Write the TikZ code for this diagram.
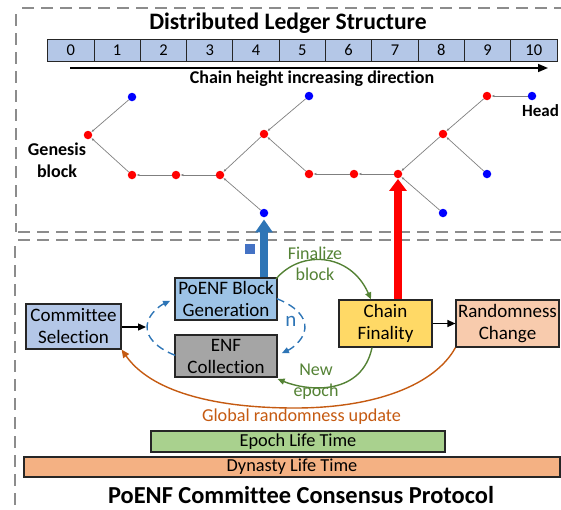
\documentclass[tikz,border=0pt]{standalone}
\usepackage{fontspec}
\setmainfont{Carlito}[Ligatures=NoCommon]
\usetikzlibrary{arrows.meta}
\definecolor{cellblue}{HTML}{B4C7E7}
\definecolor{genblue}{HTML}{9DC3E6}
\definecolor{enfgray}{HTML}{A5A5A5}
\definecolor{cfyellow}{HTML}{FFD966}
\definecolor{rcpeach}{HTML}{F8CBAD}
\definecolor{epgreen}{HTML}{A9D18E}
\definecolor{dynorange}{HTML}{F4B183}
\definecolor{dashgray}{HTML}{8C8C8C}
\definecolor{steel}{HTML}{2E75B6}
\definecolor{sqblue}{HTML}{4472C4}
\definecolor{olive}{HTML}{548235}
\definecolor{rust}{HTML}{C55A11}
\definecolor{edgegray}{HTML}{7F7F7F}
\definecolor{dotblue}{HTML}{0000FF}
\begin{document}
\begin{tikzpicture}[x=1pt,y=-1pt,
  frame/.style={dashgray,line width=1.6pt,dash pattern=on 12pt off 7pt},
  cell/.style={draw=black!85,line width=1pt,fill=cellblue,minimum width=46.3pt,minimum height=22pt,inner sep=0pt,font=\fontsize{16.5}{18}\selectfont},
  reddot/.style={circle,fill=red,inner sep=0pt,minimum size=8.5pt},
  bluedot/.style={circle,fill=dotblue,inner sep=0pt,minimum size=8.5pt},
  edge/.style={edgegray,line width=0.7pt,-{Latex[length=3pt,width=2.5pt]}},
  box/.style={draw=black!85,line width=1.2pt,inner sep=0pt,align=center,font=\fontsize{19}{22}\selectfont},
  bar/.style={draw=black!85,line width=1.2pt,inner sep=0pt,font=\fontsize{18.3}{20}\selectfont},
  blk/.style={black,line width=1.4pt,-{Triangle[length=8pt,width=7pt]}},
  loopar/.style={steel,line width=1.4pt,dash pattern=on 8pt off 5pt,-{Triangle[length=7pt,width=6pt]}},
  grn/.style={olive,line width=1.4pt,-{Triangle[length=7pt,width=6pt]}},
]
\useasboundingbox (0,0) rectangle (561,509);
% frames
\coordinate (f1a) at (22,8);   \coordinate (f1b) at (561,8);
\coordinate (f1c) at (16,14);  \coordinate (f1d) at (16,232);
\coordinate (f1e) at (18,232); \coordinate (f1f) at (561,232);
\coordinate (f2a) at (18,240); \coordinate (f2b) at (561,240);
\coordinate (f2c) at (15,246); \coordinate (f2d) at (15,509);
\draw[frame] (f1a) -- (f1b);
\draw[frame] (f1c) -- (f1d);
\draw[frame] (f1e) -- (f1f);
\draw[frame] (f2a) -- (f2b);
\draw[frame] (f2c) -- (f2d);
% title
\node[font=\fontsize{23.6}{26}\selectfont\bfseries] (title) at (288,23) {Distributed Ledger Structure};
\foreach \i in {0,...,10} {
  \node[cell] (c\i) at ({47.7+46.3*(\i+0.5)},50) {\i};
}
\coordinate (ha) at (70,68); \coordinate (hb) at (548,68);
\draw[black,line width=1.6pt,-{Triangle[length=10pt,width=8pt]}] (ha) -- (hb);
\node[font=\fontsize{18}{20}\selectfont\bfseries] (dir) at (312,79) {Chain height increasing direction};
% tree
\node[reddot] (g) at (88,135) {};
\node[bluedot] (b1) at (132,97) {};
\node[reddot] (r1) at (132,175) {};
\node[reddot] (r2) at (176,175) {};
\node[reddot] (r3) at (220,175) {};
\node[reddot] (r4) at (264,134) {};
\node[bluedot] (b2) at (264,213) {};
\node[bluedot] (b3) at (309,96) {};
\node[reddot] (r5) at (309,174) {};
\node[reddot] (r6) at (354,174) {};
\node[reddot] (r7) at (398,174) {};
\node[reddot] (r8) at (443,134) {};
\node[bluedot] (b4) at (443,213) {};
\node[reddot] (r9) at (487,96) {};
\node[bluedot] (b5) at (487,174) {};
\node[bluedot] (b6) at (532,96) {};
\foreach \c/\p in {b1/g,r1/g,r2/r1,r3/r2,r4/r3,b2/r3,b3/r4,r5/r4,r6/r5,r7/r6,r8/r7,b4/r7,r9/r8,b5/r8,b6/r9}
  \draw[edge] (\c) -- (\p);
\node[font=\fontsize{18}{22}\selectfont\bfseries,align=center] (gen) at (57,160) {Genesis\\block};
\node[font=\fontsize{17}{20}\selectfont\bfseries,anchor=west,inner sep=0pt] (head) at (522,111) {Head};
% protocol boxes
\node[box,fill=cellblue,minimum width=95pt,minimum height=45pt] (cs) at (73.5,326.5) {Committee\\Selection};
\node[box,fill=genblue,minimum width=102pt,minimum height=42pt] (pg) at (226,299) {PoENF Block\\Generation};
\node[box,fill=enfgray,minimum width=102pt,minimum height=42pt] (enf) at (226,356) {ENF\\Collection};
\node[box,fill=cfyellow,minimum width=93pt,minimum height=47pt] (cf) at (385.5,323.5) {Chain\\Finality};
\node[box,fill=rcpeach,minimum width=103pt,minimum height=47pt] (rc) at (507.5,323.5) {Randomness\\Change};
% vertical arrows
\draw[steel,line width=8pt,-{Triangle[length=13pt,width=17pt]},shorten >=2pt] (pg.north -| b2) -- (b2);
\draw[red,line width=8pt,-{Triangle[length=12pt,width=17pt]},shorten >=0.5pt] (cf.north -| r7) -- (r7);
\node[fill=sqblue,minimum size=10pt,inner sep=0pt] (sq) at (250,248.5) {};
% loop
\coordinate (lp) at (146,327);
\draw[blk] (cs.east |- lp) -- (lp);
\coordinate (la) at ({226+79*cos(130)},{327+37*sin(130)});
\coordinate (lb) at ({226+79*cos(-50)},{327+37*sin(-50)});
\draw[loopar] (la) arc[start angle=130,end angle=225,x radius=79,y radius=37];
\draw[loopar] (lb) arc[start angle=-50,end angle=45,x radius=79,y radius=37];
\node[steel,font=\fontsize{21}{24}\selectfont] (n) at (291,321) {n};
% finalize
\coordinate (fa) at (276,279);
\draw[grn] (fa) .. controls (300,250) and (350,252) .. (cf.north -| 371,0);
\node[olive,font=\fontsize{18}{21}\selectfont,align=center] (fb) at (315,264) {Finalize\\block};
% new epoch
\draw[grn] (cf.south -| 372,0) .. controls (362,395) and (310,392) .. (enf.east |- 0,379);
\node[olive,font=\fontsize{18}{21}\selectfont,align=center] (ne) at (316,382) {New\\epoch};
\draw[blk] (cf.east) -- (rc.west);
% global randomness
\coordinate (gb) at (295,408);
\draw[rust,line width=1.4pt,-{Triangle[length=8pt,width=7pt]}] (rc.south west) .. controls (435,385) and (375,408) .. (gb) .. controls (210,408) and (150,390) .. (cs.south east);
\node[rust,font=\fontsize{18.2}{21}\selectfont] (gru) at (301.5,417) {Global randomness update};
% bars
\node[bar,fill=epgreen,minimum width=294pt,minimum height=21pt] (ep) at (298,441.5) {Epoch Life Time};
\node[bar,fill=dynorange,minimum width=536pt,minimum height=20pt] (dy) at (292,467) {Dynasty Life Time};
\node[font=\fontsize{24.4}{27}\selectfont\bfseries] (pt) at (301,495) {PoENF Committee Consensus Protocol};
\end{tikzpicture}
\end{document}
